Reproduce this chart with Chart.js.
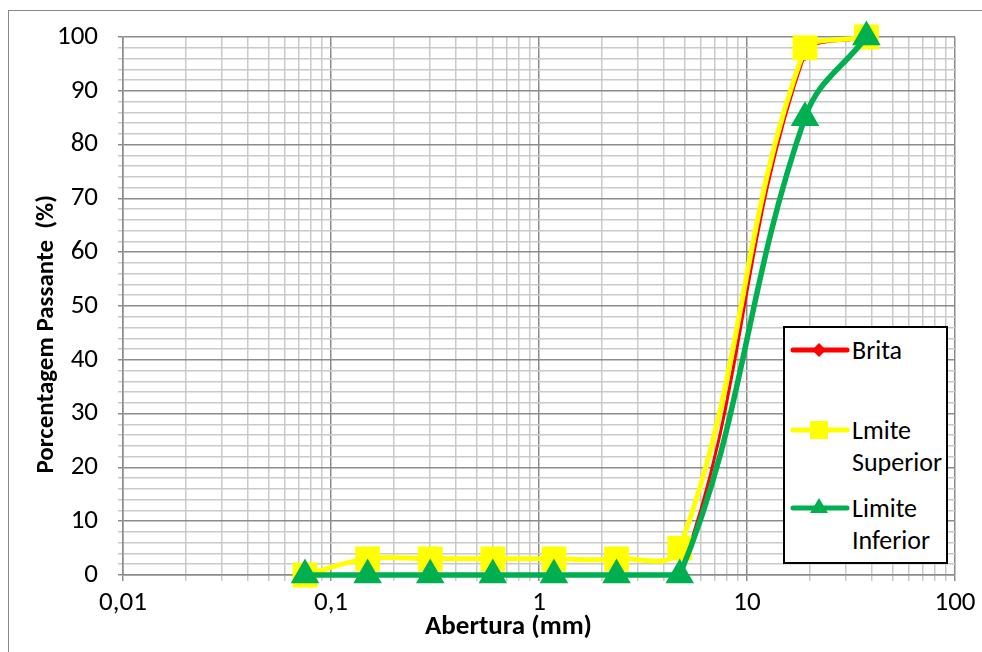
<!DOCTYPE html>
<html>
<head>
<meta charset="utf-8">
<script src="https://cdn.jsdelivr.net/npm/chart.js@4.4.1/dist/chart.umd.min.js"></script>
<style>
  body { margin: 0; background: #fff; }
  #wrap { position: relative; width: 982px; height: 652px; overflow: hidden; }
  #frame { position: absolute; left: 8px; top: 10px; width: 1000px; height: 700px; border: 1px solid #888; }
  #legend { position: absolute; left: 783px; top: 326px; width: 161px; height: 234px; border: 2px solid #000; background: #fff;
            font-family: Carlito, Lato, sans-serif; font-size: 26px; color: #000; }
  .item { position: absolute; left: 5px; }
  .item svg { position: absolute; left: 0; top: 0; }
  .item span { position: absolute; left: 62px; top: 0; line-height: 32px; white-space: nowrap; }
</style>
</head>
<body>
<div id="wrap">
  <div id="frame"></div>
  <canvas id="myChart" width="982" height="652"></canvas>
  <div id="legend">
    <div class="item" style="top:6px">
      <svg width="60" height="32"><line x1="3" y1="16" x2="57" y2="16" stroke="#ff0000" stroke-width="5" stroke-linecap="round"/><polygon points="29,9 36,16 29,23 22,16" fill="#ff0000"/></svg>
      <span>Brita</span>
    </div>
    <div class="item" style="top:86px">
      <svg width="60" height="32"><line x1="3" y1="16" x2="57" y2="16" stroke="#ffff00" stroke-width="5" stroke-linecap="round"/><rect x="20" y="7" width="18" height="18" fill="#ffff00"/></svg>
      <span>Lmite<br>Superior</span>
    </div>
    <div class="item" style="top:164px">
      <svg width="60" height="32"><line x1="3" y1="16" x2="57" y2="16" stroke="#00b050" stroke-width="5" stroke-linecap="round"/><polygon points="29,6 38,21 20,21" fill="#00b050"/></svg>
      <span>Limite<br>Inferior</span>
    </div>
  </div>
</div>
<script>
// abertura das peneiras (mm)
var peneiras = [0.075, 0.15, 0.3, 0.6, 1.18, 2.36, 4.75, 19, 37.5];
var brita = [0, 0, 0, 0, 0, 0, 0, 97, 100];
var limiteSuperior = [0, 3, 3, 3, 3, 3, 5, 98, 100];
var limiteInferior = [0, 0, 0, 0, 0, 0, 0, 85, 100];
var xDecadas = [0.01, 0.1, 1, 10, 100];
var yTicks = [0, 10, 20, 30, 40, 50, 60, 70, 80, 90, 100];

function pontos(vals) {
    return peneiras.map(function(p, i) { return { x: p, y: vals[i] }; });
}

var fonte = 'Carlito, Lato, sans-serif';

var ctx = document.getElementById("myChart").getContext('2d');
var myChart = new Chart(ctx, {
    type: 'line',
    data: {
        datasets: [
            {
                label: 'Brita',
                data: pontos(brita),
                borderColor: '#ff0000',
                backgroundColor: '#ff0000',
                borderWidth: 3,
                pointStyle: 'rectRot',
                pointRadius: 6,
                tension: 0.4,
                clip: false,
                order: 3
            },
            {
                label: 'Lmite Superior',
                data: pontos(limiteSuperior),
                borderColor: '#ffff00',
                backgroundColor: '#ffff00',
                borderWidth: 5,
                pointStyle: 'rect',
                pointRadius: 14,
                tension: 0.4,
                clip: false,
                order: 2
            },
            {
                label: 'Limite Inferior',
                data: pontos(limiteInferior),
                borderColor: '#00b050',
                backgroundColor: '#00b050',
                borderWidth: 5.5,
                pointStyle: 'triangle',
                pointRadius: 11,
                tension: 0.4,
                clip: false,
                order: 1
            }
        ]
    },
    options: {
        responsive: false,
        animation: false,
        layout: { padding: { top: 37, right: 27, left: 0, bottom: 0 } },
        plugins: { legend: { display: false }, tooltip: { enabled: false } },
        scales: {
            x: {
                type: 'logarithmic',
                min: 0.01,
                max: 100,
                afterBuildTicks: function(axis) {
                    var t = [];
                    for (var d = 0; d < xDecadas.length; d++) {
                        if (d == xDecadas.length - 1) { t.push({ value: xDecadas[d], major: true }); break; }
                        for (var k = 1; k < 10; k++) {
                            t.push({ value: +(xDecadas[d] * k).toPrecision(3), major: k == 1 });
                        }
                    }
                    axis.ticks = t;
                },
                afterFit: function(axis) { axis.height = 77; },
                ticks: {
                    autoSkip: false,
                    maxRotation: 0,
                    color: '#000',
                    font: { family: fonte, size: 27 },
                    padding: 6,
                    callback: function(v) {
                        var i = xDecadas.indexOf(v);
                        if (i < 0) return '';
                        return String(v).replace('.', ',');
                    }
                },
                grid: {
                    color: function(c) { return c.tick && c.tick.major ? '#8c8c8c' : '#c9c9c9'; },
                    lineWidth: 1.5,
                    tickLength: 6
                },
                border: { color: '#8c8c8c', width: 1.5 },
                title: {
                    display: true,
                    text: 'Abertura (mm)          ',
                    color: '#000',
                    font: { family: fonte, size: 27, weight: 'bold' },
                    padding: { top: 9, bottom: 9 }
                }
            },
            y: {
                min: 0,
                max: 100,
                afterFit: function(axis) { axis.width = 123; },
                afterBuildTicks: function(axis) {
                    var t = [];
                    for (var v = 0; v <= 100; v += 2) t.push({ value: v, major: v % 10 == 0 });
                    axis.ticks = t;
                },
                ticks: {
                    autoSkip: false,
                    color: '#000',
                    font: { family: fonte, size: 27 },
                    padding: 20,
                    callback: function(v) { return yTicks.indexOf(v) >= 0 ? String(v) : ''; }
                },
                grid: {
                    color: function(c) { return c.tick && c.tick.major ? '#8c8c8c' : '#c9c9c9'; },
                    lineWidth: 1.5,
                    tickLength: 5
                },
                border: { color: '#8c8c8c', width: 1.5 },
                title: {
                    display: true,
                    text: 'Porcentagem Passante  (%)          ',
                    color: '#000',
                    font: { family: fonte, size: 25, weight: 'bold' },
                    padding: { top: 32, bottom: 32 }
                }
            }
        }
    }
});
</script>
</body>
</html>
